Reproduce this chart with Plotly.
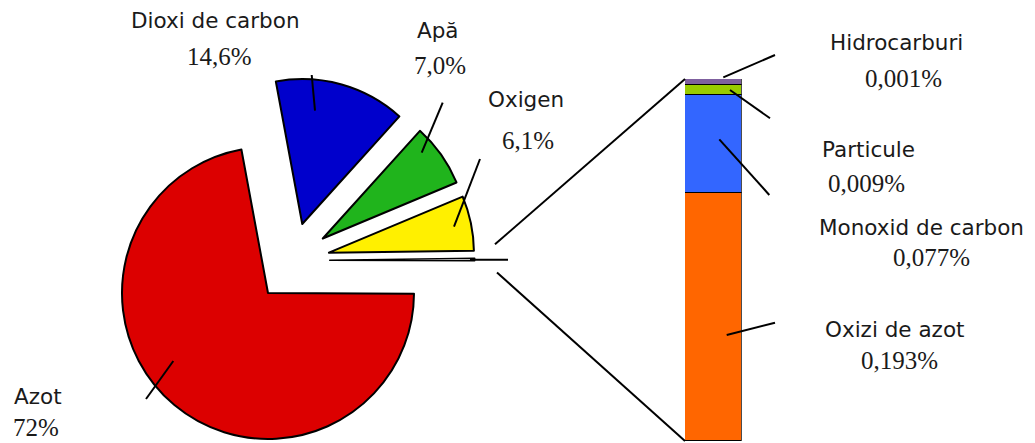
import plotly.graph_objects as go

W, H = 1035, 443

# ---- data ----
pie_labels = ["Dioxi de carbon", "Apă", "Oxigen", "Altele", "Azot"]
pie_values = [14.6, 7.0, 6.1, 0.28, 72.0]
pie_texts = ["14,6%", "7,0%", "6,1%", "", "72%"]
pie_colors = ["#0000cc", "#20b41c", "#fff000", "#ffffff", "#dc0000"]

bar_labels = ["Oxizi de azot", "Monoxid de carbon", "Particule", "Hidrocarburi"]
bar_texts = ["0,193%", "0,077%", "0,009%", "0,001%"]
# segment heights (percent)
bar_values = [0.192, 0.0755, 0.0078, 0.0047]
bar_colors = ["#ff6600", "#3366ff", "#99cc00", "#7f609f"]


def px(x):
    return x / W


def py(y):
    return 1 - y / H


fig = go.Figure()

TR = "rgba(0,0,0,0)"
# Azot slice (not pulled)
fig.add_trace(go.Pie(
    labels=pie_labels, values=pie_values, sort=False, direction="clockwise",
    rotation=-10.5, textinfo="none", hoverinfo="skip", showlegend=False,
    marker=dict(colors=[TR, TR, TR, TR, pie_colors[4]],
                line=dict(color="black", width=[0, 0, 0, 0, 2])),
    domain=dict(x=[px(268 - 146), px(268 + 146)], y=[py(293 + 146), py(293 - 146)]),
))
# exploded slices
cx, cy, ext = 292, 260.3, 145 * 1.26
fig.add_trace(go.Pie(
    labels=pie_labels, values=pie_values, sort=False, direction="clockwise",
    rotation=-10.5, textinfo="none", hoverinfo="skip", showlegend=False,
    pull=[0.26, 0.26, 0.26, 0.26, 0],
    marker=dict(colors=pie_colors[:4] + [TR],
                line=dict(color="black", width=[2, 2, 2, 1.5, 0])),
    domain=dict(x=[px(cx - ext - 10), px(cx + ext + 10)], y=[py(cy + ext), py(cy - ext)]),
))

for lab, v, c in zip(bar_labels, bar_values, bar_colors):
    fig.add_trace(go.Bar(x=[0], y=[v], width=1, name=lab, marker=dict(color=c, line=dict(color="black", width=1.5)),
                         hoverinfo="skip", showlegend=False, xaxis="x", yaxis="y"))

total = sum(bar_values)
fig.update_layout(
    width=W, height=H, margin=dict(l=0, r=0, t=0, b=0),
    paper_bgcolor="white", plot_bgcolor="rgba(0,0,0,0)",
    barmode="stack", bargap=0,
    xaxis=dict(domain=[px(685), px(741.7)], range=[-0.5, 0.5], visible=False, fixedrange=True),
    yaxis=dict(domain=[py(441), py(79)], range=[0, total], visible=False, fixedrange=True),
)

# leader & connector lines (pixel positions)
lines = [
    ((311.7, 75), (315, 110.7)),
    ((442.7, 102.7), (421.7, 152.7)),
    ((480, 159), (454, 226.7)),
    ((173.3, 361), (146, 399)),
    ((723.3, 77.3), (775, 55)),
    ((730, 90), (770, 118.3)),
    ((719.3, 139.3), (769.3, 195)),
    ((726.7, 335), (775, 322.7)),
    ((495, 244.3), (685, 79)),
    ((497, 272.5), (685, 441)),
    ((470, 259.8), (508, 259.8)),
]
for (x0, y0), (x1, y1) in lines:
    fig.add_shape(type="line", xref="paper", yref="paper", x0=px(x0), y0=py(y0), x1=px(x1), y1=py(y1),
                  line=dict(color="black", width=2))

SANS = dict(family="DejaVu Sans", size=21.5, color="#1a1a1a")
SERIF = dict(family="Liberation Serif", size=25, color="#1a1a1a")

names = [
    ("Dioxi de carbon", 215, 21),
    ("Apă", 438, 31),
    ("Oxigen", 526, 99),
    ("Azot", 37.5, 396),
    ("Hidrocarburi", 896.7, 42),
    ("Particule", 868.7, 149),
    ("Monoxid de carbon", 921.7, 227.5),
    ("Oxizi de azot", 894, 329),
]
nums = [
    (pie_texts[0], 219, 56),
    (pie_texts[1], 440, 65.3),
    (pie_texts[2], 528, 140.5),
    (pie_texts[4], 36, 427),
    (bar_texts[3], 903, 78.3),
    (bar_texts[2], 866, 183),
    (bar_texts[1], 931.7, 257.5),
    (bar_texts[0], 899, 360),
]
for t, x, y in names:
    fig.add_annotation(text=t, x=px(x), y=py(y), xref="paper", yref="paper", showarrow=False,
                       xanchor="center", yanchor="middle", font=SANS)
for t, x, y in nums:
    fig.add_annotation(text=t, x=px(x), y=py(y), xref="paper", yref="paper", showarrow=False,
                       xanchor="center", yanchor="middle", font=SERIF)

fig.write_html("out.html")
